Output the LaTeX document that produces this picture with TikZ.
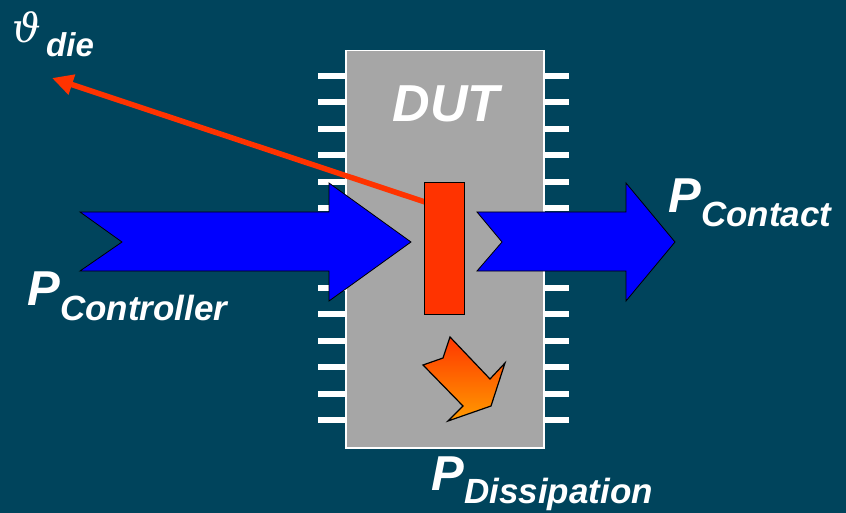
\documentclass[tikz,border=0pt]{standalone}
\usepackage{fontspec}
\setmainfont{Liberation Sans}
\newfontfamily\thetafont{DejaVu Serif}
\usetikzlibrary{arrows.meta}
\definecolor{bg}{RGB}{0,68,92}
\definecolor{chipgray}{RGB}{166,166,166}
\definecolor{dieRed}{RGB}{255,51,0}
\definecolor{blueArrow}{RGB}{0,0,255}
\definecolor{orTop}{RGB}{255,55,0}
\definecolor{orBot}{RGB}{255,155,0}
\begin{document}
\begin{tikzpicture}[x=1pt,y=-1pt,
  lbl/.style={text=white, inner sep=0pt, anchor=base west},
  bigP/.style={lbl, font=\fontsize{49}{49}\selectfont\bfseries\itshape},
  subT/.style={lbl, font=\fontsize{35}{35}\selectfont\bfseries\itshape},
  pin/.style={fill=white},
  flow/.style={fill=blueArrow, draw=black, line width=0.8pt, line join=miter}]
\fill[bg] (0,0) rectangle (846,513);
\useasboundingbox (0,0) rectangle (846,513);
% pins
\foreach \i in {0,...,13} {
  \fill[pin] (318,{76+26.46*\i-3}) rectangle (345,{76+26.46*\i+3});
  \fill[pin] (543,{76+26.46*\i-3}) rectangle (569,{76+26.46*\i+3});
}
% chip
\node[draw=white, line width=1.5pt, fill=chipgray, minimum width=198pt, minimum height=397pt, inner sep=0pt, anchor=north west] (chip) at (345,50) {};
\node[text=white, inner sep=0pt, anchor=base, font=\fontsize{52}{52}\selectfont\bfseries\itshape] (dut) at (446,122) {DUT};
% temperature line
\coordinate (dieL) at (428,203);
\coordinate (thetaTip) at (52,78);
\draw[dieRed, line width=5.5pt, -{Triangle[length=21pt,width=20pt]}] (dieL) -- (thetaTip);
% blue arrows
\draw[flow] (80,212) -- (329,212) -- (329,183) -- (411,242) -- (329,301) -- (329,271) -- (80,271) -- (122,242) -- cycle;
\draw[flow] (477,212) -- (626,212) -- (626,183) -- (675,242) -- (626,301) -- (626,271) -- (477,271) -- (502,242) -- cycle;
% die
\node[draw=black, fill=dieRed, line width=0.8pt, minimum width=40pt, minimum height=132pt, inner sep=0pt, anchor=north west] (die) at (424,182) {};
% dissipation arrow
\shadedraw[top color=orTop, bottom color=orBot, draw=black, line width=1.2pt, line join=miter]
  (450,337) -- (443,358) -- (423,365) -- (463,406) -- (448,421) -- (491,406) -- (505,363) -- (490,379) -- cycle;
% labels
\node[lbl, font=\fontsize{40}{40}\selectfont\thetafont\itshape] (thetaLbl) at (12,43) {ϑ};
\node[lbl, font=\fontsize{33}{33}\selectfont\bfseries\itshape] (dieSub) at (46,57) {die};
\node[bigP] (pc) at (27,305) {P};
\node[subT] (pcSub) at (60,320) {Controller};
\node[bigP] (pk) at (668,213) {P};
\node[subT] (pkSub) at (701,227) {Contact};
\node[bigP] (pd) at (431,490) {P};
\node[subT] (pdSub) at (464,503) {Dissipation};
\end{tikzpicture}
\end{document}
